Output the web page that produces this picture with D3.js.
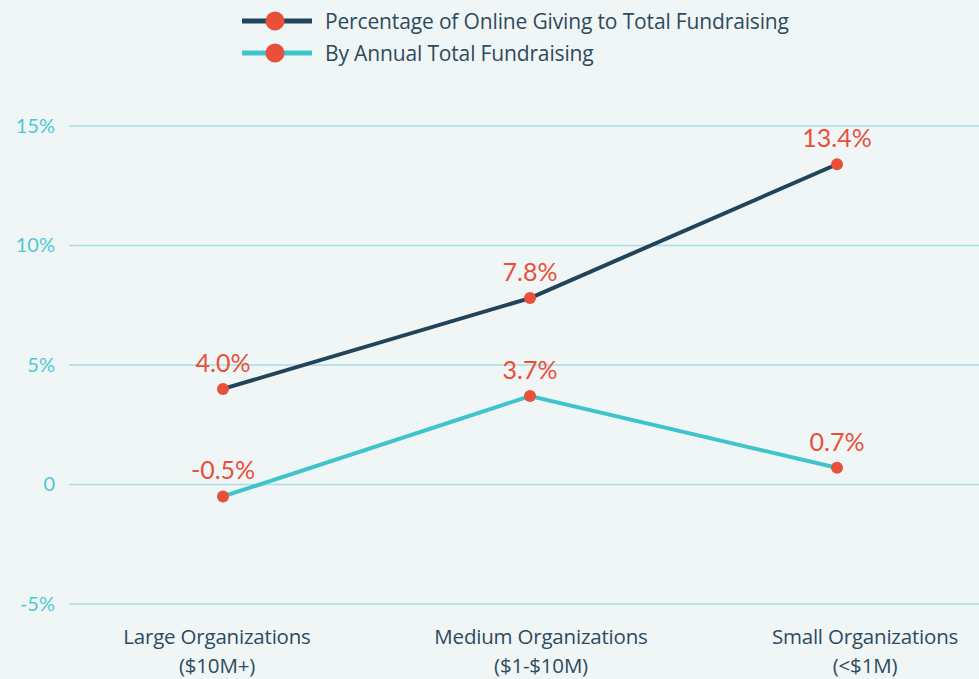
<!DOCTYPE html>
<html><head><meta charset="utf-8">
<script src="https://cdn.jsdelivr.net/npm/d3@7/dist/d3.min.js"></script>
<style>
html,body{margin:0;padding:0;background:#f0f6f6;}
svg{display:block;font-family:Lato,"Open Sans",sans-serif;}
</style></head><body>
<svg id="chart" width="979" height="679"></svg>
<script>
const categories = ["Large Organizations|($10M+)", "Medium Organizations|($1-$10M)", "Small Organizations|(<$1M)"];
const seriesNames = ["Percentage of Online Giving to Total Fundraising", "By Annual Total Fundraising"];
const onlineGiving = [4.0, 7.8, 13.4];
const annualTotal = [-0.5, 3.7, 0.7];
const yTicks = [-5, 0, 5, 10, 15];
const yTickLabels = ["-5%", "0", "5%", "10%", "15%"];

const svg = d3.select("#chart");
const W = 979, H = 679;
const x = d3.scalePoint().domain(d3.range(categories.length)).range([223, 837]);
const xLabel = d3.scalePoint().domain(d3.range(categories.length)).range([217, 865]);
const y = d3.scaleLinear().domain([-5, 15]).range([604, 126]);
const colors = ["#22445a", "#40c4cc"];
const dotColor = "#e8503a";

// gridlines
svg.append("g").selectAll("line").data(yTicks).join("line")
  .attr("x1", 69).attr("x2", W)
  .attr("y1", d => y(d)).attr("y2", d => y(d))
  .attr("stroke", "#a9dde3").attr("stroke-width", 1.3);

// y tick labels
const yAxis = d3.axisLeft(y).tickValues(yTicks).tickSize(0).tickPadding(0)
  .tickFormat((d, i) => yTickLabels[i]);
const ga = svg.append("g").attr("transform", "translate(55,0)").call(yAxis);
ga.select(".domain").remove();
ga.selectAll("text").attr("fill", "#4ec8d4").attr("font-size", 20)
  .attr("font-family", "Lato, sans-serif");

// category labels
const cg = svg.append("g");
categories.forEach((c, i) => {
  const parts = c.split("|");
  parts.forEach((p, j) => {
    cg.append("text").attr("x", xLabel(i)).attr("y", 644 + j * 29)
      .attr("text-anchor", "middle")
      .attr("fill", "#2d4a5e").attr("font-size", 20.5)
      .attr("font-family", "'Open Sans', sans-serif").attr("letter-spacing", -0.2)
      .text(p);
  });
});

// lines
const data = [onlineGiving, annualTotal];
const line = d3.line().x((d, i) => x(i)).y(d => y(d));
data.forEach((s, k) => {
  svg.append("path").datum(s).attr("d", line)
    .attr("fill", "none").attr("stroke", colors[k]).attr("stroke-width", 4);
});
data.forEach((s, k) => {
  svg.append("g").selectAll("circle").data(s).join("circle")
    .attr("cx", (d, i) => x(i)).attr("cy", d => y(d)).attr("r", 6)
    .attr("fill", dotColor);
  svg.append("g").selectAll("text").data(s).join("text")
    .attr("x", (d, i) => x(i)).attr("y", d => y(d) - 17)
    .attr("text-anchor", "middle").attr("fill", dotColor)
    .attr("font-size", 25).attr("font-family", "Lato, sans-serif")
    .text(d => d.toFixed(1) + "%");
});

// legend
const lg = svg.append("g");
seriesNames.forEach((n, k) => {
  const cy = 21 + k * 32;
  lg.append("line").attr("x1", 242).attr("x2", 312).attr("y1", cy).attr("y2", cy)
    .attr("stroke", colors[k]).attr("stroke-width", 5);
  lg.append("circle").attr("cx", 275).attr("cy", cy).attr("r", 9.5).attr("fill", dotColor);
  lg.append("text").attr("x", 325).attr("y", cy + 8).attr("fill", "#2d4a5e")
    .attr("font-size", 21).attr("font-family", "'Open Sans', sans-serif")
    .attr("letter-spacing", -0.15).text(n);
});
</script>
</body></html>
